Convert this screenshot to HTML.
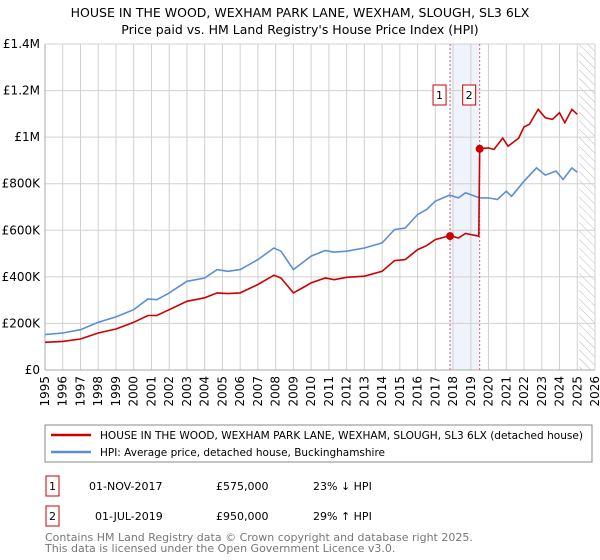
<!DOCTYPE html>
<html><head><meta charset="utf-8"><style>
body{margin:0;background:#fff;font-family:"DejaVu Sans","Liberation Sans",sans-serif;}
svg{display:block}
</style></head><body>
<svg width="600" height="560" viewBox="0 0 600 560">
<text x="300" y="17" text-anchor="middle" font-size="12.5" fill="#000">HOUSE IN THE WOOD, WEXHAM PARK LANE, WEXHAM, SLOUGH, SL3 6LX</text>
<text x="300" y="34" text-anchor="middle" font-size="12.5" fill="#000">Price paid vs. HM Land Registry's House Price Index (HPI)</text>
<defs><pattern id="hatch" width="6" height="6" patternUnits="userSpaceOnUse" patternTransform="rotate(-45)"><line x1="0" y1="0" x2="0" y2="6" stroke="#bbb" stroke-width="1"/></pattern></defs>
<g id="plot"></g>
<rect x="45" y="425" width="547" height="37" fill="#fff" stroke="#888"/>
<line x1="51" y1="435" x2="91" y2="435" stroke="#cc0000" stroke-width="2.5"/>
<text x="100" y="439" font-size="11" textLength="483" lengthAdjust="spacingAndGlyphs">HOUSE IN THE WOOD, WEXHAM PARK LANE, WEXHAM, SLOUGH, SL3 6LX (detached house)</text>
<line x1="51" y1="452" x2="91" y2="452" stroke="#5b8fd4" stroke-width="2.5"/>
<text x="100" y="456" font-size="11" textLength="285" lengthAdjust="spacingAndGlyphs">HPI: Average price, detached house, Buckinghamshire</text>
<g font-size="11">
<rect x="46" y="476" width="13" height="20" fill="#fff" stroke="#cc0000"/><text x="52.5" y="490" text-anchor="middle">1</text>
<text x="89" y="490">01-NOV-2017</text><text x="216" y="490">£575,000</text><text x="313" y="490">23% ↓ HPI</text></g>
<g font-size="11">
<rect x="46" y="506" width="13" height="20" fill="#fff" stroke="#cc0000"/><text x="52.5" y="520" text-anchor="middle">2</text>
<text x="95" y="520">01-JUL-2019</text><text x="216" y="520">£950,000</text><text x="313" y="520">29% ↑ HPI</text></g>
<text x="45" y="541" font-size="11" fill="#777">Contains HM Land Registry data © Crown copyright and database right 2025.</text>
<text x="45" y="552" font-size="11" fill="#777">This data is licensed under the Open Government Licence v3.0.</text>
</svg>
<script>
const hpiYears=[1995,1996,1997,1998,1999,2000,2000.8,2001.3,2002,2003,2004,2004.7,2005.3,2006,2007,2007.9,2008.3,2009,2009.5,2010,2010.8,2011.3,2012,2013,2014,2014.7,2015.3,2016,2016.5,2017,2017.8,2018.3,2018.7,2019.5,2020,2020.5,2021,2021.3,2022,2022.7,2023.2,2023.8,2024.2,2024.7,2025.0];
const hpiValues=[152,159,173,205,228,259,305,302,331,381,395,431,424,431,474,524,510,431,460,489,513,506,510,524,546,603,610,668,689,725,751,739,761,739,739,732,768,746,811,868,837,854,818,868,849];
const priceYears=[1995,1996,1997,1998,1999,2000,2000.8,2001.3,2002,2003,2004,2004.7,2005.3,2006,2007,2007.9,2008.3,2009,2009.5,2010,2010.8,2011.3,2012,2013,2014,2014.7,2015.3,2016,2016.5,2017,2017.83,2018.3,2018.7,2019.45,2019.5,2020,2020.3,2020.8,2021.1,2021.7,2022,2022.3,2022.8,2023.2,2023.6,2024,2024.3,2024.7,2025.0];
const priceValues=[119,123,133,159,176,205,234,234,259,295,310,331,328,331,367,407,395,331,352,374,395,388,398,403,424,470,474,517,534,560,577,567,586,575,951,954,947,996,961,996,1044,1055,1119,1083,1076,1105,1062,1119,1098];
const saleYears=[2017.83,2019.5];
const saleValues=[575,950];
const saleLabels=["1","2"];
const yTicks=[0,200,400,600,800,1000,1200,1400];
const yTickLabels=["£0","£200K","£400K","£600K","£800K","£1M","£1.2M","£1.4M"];
const xYears=[1995,1996,1997,1998,1999,2000,2001,2002,2003,2004,2005,2006,2007,2008,2009,2010,2011,2012,2013,2014,2015,2016,2017,2018,2019,2020,2021,2022,2023,2024,2025,2026];
const forecastStart=2025.1;

const X0=45,X1=595,Y0=370,Y1=44;
const xs=y=>X0+(y-1995)/(2026-1995)*(X1-X0);
const ys=v=>Y0-v/1400*(Y0-Y1);
const NS="http://www.w3.org/2000/svg";
const g=document.getElementById('plot');
function mk(t,a){const e=document.createElementNS(NS,t);for(const k in a)e.setAttribute(k,a[k]);g.appendChild(e);return e;}
let band=mk('rect',{x:xs(saleYears[0]),y:Y1,width:xs(saleYears[1])-xs(saleYears[0]),height:Y0-Y1,fill:'#eef3fc'});


let hat=mk('rect',{x:xs(forecastStart),y:Y1,width:X1-xs(forecastStart),height:Y0-Y1,fill:'url(#hatch)'});


xYears.forEach((yr,i)=>{
 let l=mk('line',{x1:xs(yr),x2:xs(yr),y1:Y1,y2:Y0,stroke:'#d0d0d0','stroke-width':1});
 
 
 let tx=xs(yr)+4,ty=Y0+6;
 let t=mk('text',{x:tx,y:ty,'text-anchor':'end','font-size':12,transform:`rotate(-90 ${tx} ${ty})`});
 
 
 t.textContent=yr;
});
yTicks.forEach((v,i)=>{
 let l=mk('line',{x1:X0,x2:X1,y1:ys(v),y2:ys(v),stroke:'#d0d0d0','stroke-width':1});
 
 
 let t=mk('text',{x:X0-5,y:ys(v)+4,'text-anchor':'end','font-size':12});
 
 
 t.textContent=yTickLabels[i];
});
let ax=mk('line',{x1:X0,x2:X0,y1:Y1,y2:Y0,stroke:'#aaa'});


let bx=mk('line',{x1:X0,x2:X1,y1:Y0,y2:Y0,stroke:'#aaa'});


saleYears.forEach((yr,i)=>{
 let l=mk('line',{x1:xs(yr),x2:xs(yr),y1:Y1,y2:Y0,stroke:'#e06060','stroke-width':1,'stroke-dasharray':'2,2'});
 
 
});
function path(xa,va,col,name){
 let d=xa.map((x,i)=>(i?'L':'M')+xs(x).toFixed(1)+','+ys(va[i]).toFixed(1)).join('');
 let p=mk('path',{d:d,fill:'none',stroke:col,'stroke-width':1.6});
 
 
}
path(hpiYears,hpiValues,'#5b8fd4','hpi-line');
path(priceYears,priceValues,'#cc0000','price-paid-line');
saleYears.forEach((yr,i)=>{
 let c=mk('circle',{cx:xs(yr),cy:ys(saleValues[i]),r:4,fill:'#cc0000'});
 
 
 let bxr=mk('rect',{x:xs(yr)-11-6,y:85,width:13,height:20,fill:'#fff',stroke:'#cc0000'});
 
 
 let t=mk('text',{x:xs(yr)-10.5,y:99,'text-anchor':'middle','font-size':11});
 
 
 t.textContent=saleLabels[i];
});
</script>
</body></html>
